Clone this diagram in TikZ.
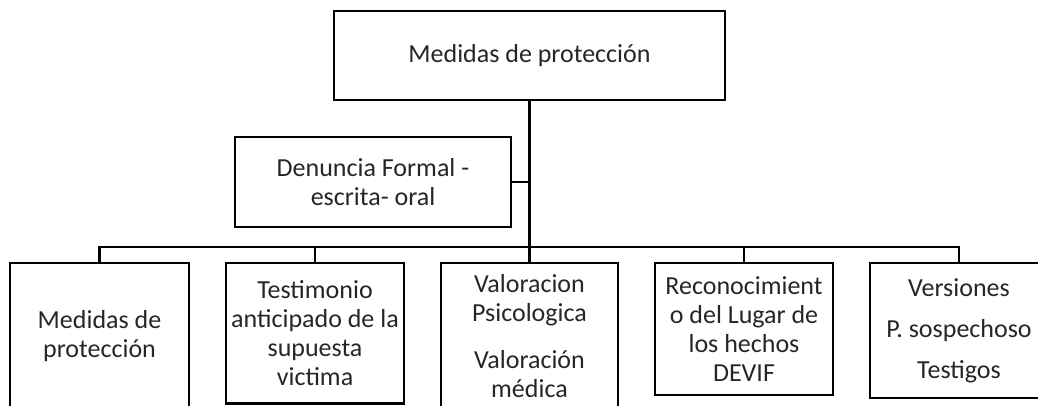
\documentclass[tikz,border=0pt]{standalone}
\usepackage{fontspec}
\setmainfont{Carlito}
\begin{document}
\begin{tikzpicture}[x=1pt, y=-1pt, line width=2.4pt,
        caja/.style={draw, rectangle, inner sep=0pt, align=center, text=black!85, font=\fontsize{26}{29}\selectfont}]
        \useasboundingbox (0, 0) rectangle (1038, 405);
        \clip (0, 0) rectangle (1038, 405);
        \node[caja, minimum width=391pt, minimum height=89pt] (medidas) at (529.5, 55.5) {Medidas de protección};
        \node[caja, minimum width=276pt, minimum height=90pt] (denuncia) at (373, 182) {Denuncia Formal -\\escrita- oral};
        \node[caja, minimum width=179pt, minimum height=147pt] (proteccion) at (99.5, 336.5) {Medidas de\\protección};
        \node[caja, minimum width=178pt, minimum height=140.5pt] (testimonio) at (315, 333.25) {Testimonio\\anticipado de la\\supuesta\\victima};
        \node[caja, minimum width=177pt, minimum height=147pt] (valoracion) at (529.5, 336.5) {Valoracion\\Psicologica\\[18pt]Valoración\\médica};
        \node[caja, minimum width=178pt, minimum height=132pt] (lugar) at (744, 329) {Reconocimient\\o del Lugar de\\los hechos\\DEVIF};
        \node[caja, minimum width=178pt, minimum height=135pt] (versiones) at (959, 330.5) {Versiones\\[12pt]P. sospechoso\\[12pt]Testigos};
        \coordinate (bus) at (529.5, 247);
        \draw (medidas.south) -- (medidas.south |- bus);
        \draw (denuncia.east) -- (denuncia.east -| medidas.south);
        \draw (proteccion.north) -- (proteccion.north |- bus) -- (versiones.north |- bus) -- (versiones.north);
        \foreach \caja in {testimonio, valoracion, lugar}
            \draw (\caja.north) -- (\caja.north |- bus);
\end{tikzpicture}
\end{document}
